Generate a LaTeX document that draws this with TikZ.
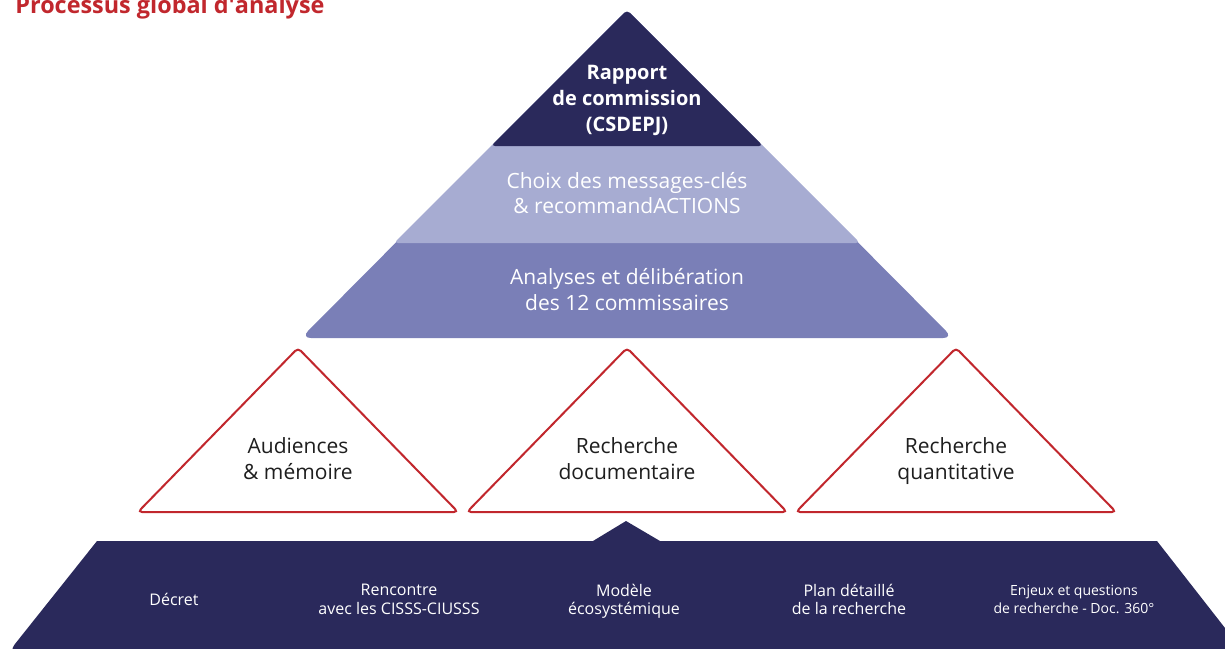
\documentclass[tikz,border=0pt]{standalone}
\usepackage{fontspec}
\setmainfont{Open Sans}
\usetikzlibrary{shapes,arrows}
\definecolor{marine}{HTML}{2A295B}
\definecolor{lavande}{HTML}{A7ACD2}
\definecolor{pervenche}{HTML}{7A7FB7}
\definecolor{rouge}{HTML}{C1272D}
\definecolor{encre}{HTML}{1E1E1E}
\tikzstyle{titre} = [text=rouge, font=\fontsize{11.7}{14}\selectfont\bfseries, inner sep=0pt]
\tikzstyle{sommet} = [text=white, align=center, font=\fontsize{10}{13}\selectfont\bfseries]
\tikzstyle{palier} = [text=white, align=center, text depth=3pt, font=\fontsize{10.5}{12.8}\selectfont]
\tikzstyle{source} = [text=encre, align=center, text depth=3pt, font=\fontsize{10.5}{13}\selectfont]
\tikzstyle{socle} = [text=white, align=center, text depth=2pt, font=\fontsize{8}{9.3}\selectfont]
\tikzstyle{cadre} = [draw=rouge, line width=1pt, rounded corners=2pt, fill=white]

\begin{document}
\begin{tikzpicture}[x=0.5pt, y=-0.5pt]
    \useasboundingbox (0,0) rectangle (1225,648);
    \clip (0,0) rectangle (1225,648);

    % Pyramide du haut
    \fill [pervenche, rounded corners=5pt] (627,10) -- (953,338) -- (301,338) -- cycle;
    \fill [lavande, rounded corners=2pt] (627,10) -- (860,243) -- (394,243) -- cycle;
    \fill [marine, rounded corners=2pt] (627,10) -- (763,146) -- (491,146) -- cycle;

    % Triangles du milieu
    \draw [cadre] (298,348) -- (458,512) -- (138,512) -- cycle;
    \draw [cadre] (627,348) -- (787,512) -- (467,512) -- cycle;
    \draw [cadre] (956,348) -- (1116,512) -- (796,512) -- cycle;

    % Socle
    \fill [marine] (1250,660) -- (1157,541) -- (660,541) -- (626,521) -- (593,541)
        -- (97,541) [rounded corners=6pt] -- (7,654) -- (1250,654);

    % Place nodes
    \node [titre, anchor=base west] (titre) at (15,13) {Processus global d\textquotesingle analyse};

    \node [sommet] (1) at (627,100) {Rapport\\de commission\\(CSDEPJ)};
    \node [palier, below of=1, node distance=48pt] (2) {Choix des messages-clés\\\& recommandACTIONS};
    \node [palier, below of=2, node distance=48.25pt] (3) {Analyses et délibération\\des 12 commissaires};

    \node [source] (a) at (298,462) {Audiences\\\& mémoire};
    \node [source, right of=a, node distance=164.5pt] (b) {Recherche\\documentaire};
    \node [source, right of=b, node distance=164.5pt] (c) {Recherche\\quantitative};

    \node [socle] (s1) at (174,601.5) {Décret};
    \node [socle, right of=s1, node distance=112.5pt] (s2) {Rencontre\\avec les CISSS-CIUSSS};
    \node [socle, right of=s2, node distance=112.5pt] (s3) {Modèle\\écosystémique};
    \node [socle, right of=s3, node distance=112.5pt] (s4) {Plan détaillé\\de la recherche};
    \node [socle, right of=s4, node distance=112.5pt, font=\fontsize{7}{9.3}\selectfont] (s5) {Enjeux et questions\\de recherche - Doc. 360°};
\end{tikzpicture}
\end{document}
